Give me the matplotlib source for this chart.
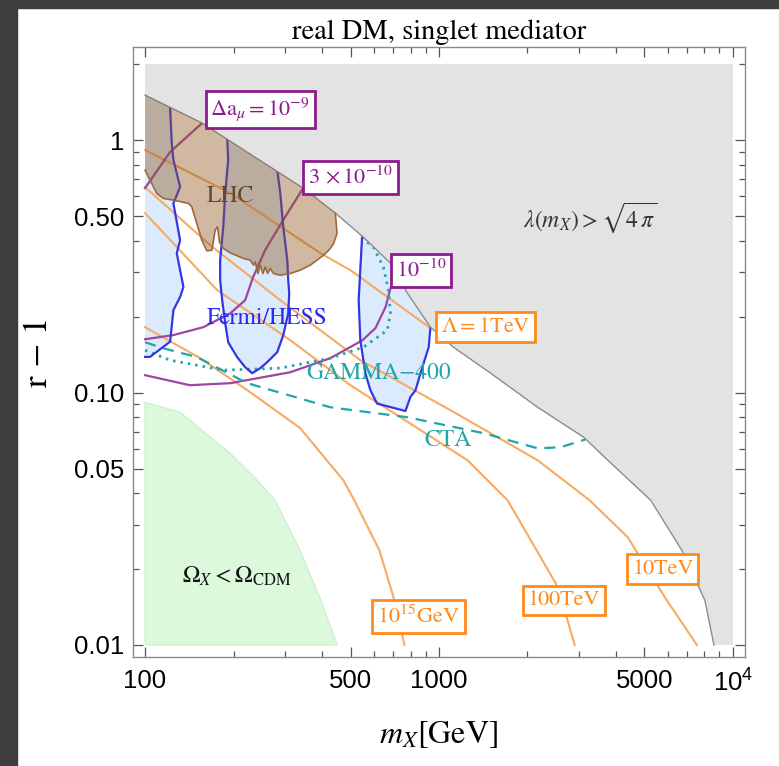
import numpy as np
import matplotlib
matplotlib.use("Agg")
import matplotlib.pyplot as plt
from matplotlib.patches import Polygon, Rectangle
from matplotlib.ticker import FixedLocator, FixedFormatter, NullFormatter

plt.rcParams["mathtext.fontset"] = "stix"
plt.rcParams["font.family"] = ["STIXGeneral", "DejaVu Serif"]
plt.rcParams["mathtext.rm"] = "Liberation Sans"

# ---------------- data (m_X in GeV, r - 1) ----------------
# perturbativity bound lambda(m_X) = sqrt(4 pi)
bound_m = [100, 156.4, 228, 345.4, 444, 553, 683.7, 781, 935.4, 1120, 1498,
           2166, 3107, 3692, 5255, 6703, 8027, 8616]
bound_r = [1.508, 1.168, 0.880, 0.645, 0.5137, 0.4125, 0.3254, 0.2474, 0.1815,
           0.1512, 0.1193, 0.0874, 0.0665, 0.0549, 0.0374, 0.0237, 0.01502, 0.01]

# relic abundance region
relic_m = [100, 131.6, 195, 241, 277, 337, 394, 451]
relic_r = [0.0915, 0.0835, 0.0574, 0.0449, 0.0374, 0.0237, 0.0153, 0.01]

# LHC exclusion, lower edge (upper edge is the perturbativity bound)
lhc_m = [444, 449.9, 438.1, 426.9, 416.0, 405.1, 384.6, 364.9, 337.4, 311.9, 288.4,
         273.6, 266.7, 261.1, 256.4, 251.8, 246.6, 242.1, 237.1, 233.9, 228.0,
         216.3, 194.8, 184.8, 179.1, 176.3, 173.2, 168.8, 162.3, 156.0, 150.0,
         144.2, 140.5, 124.9, 115.4, 109.6, 104.0, 100]
lhc_r = [0.5137, 0.4268, 0.3896, 0.3722, 0.3608, 0.3501, 0.3345, 0.3196, 0.3053,
         0.2961, 0.2916, 0.2961, 0.3101, 0.2961, 0.3146, 0.2961, 0.3196, 0.2961,
         0.3293, 0.3196, 0.3345, 0.3397, 0.3575, 0.3722, 0.3953, 0.4533, 0.4397,
         0.3664, 0.3640, 0.4015, 0.4675, 0.5440, 0.5613, 0.5783, 0.5873, 0.6148,
         0.6942, 0.7605]

# Fermi/HESS exclusion contours
fermiA_m = [121.7, 123.3, 124.9, 131.6, 124.9, 131.6, 128.2, 135.1, 131.6, 124.9,
            121.7, 104, 100]
fermiA_r = [1.339, 0.970, 0.833, 0.653, 0.561, 0.401, 0.356, 0.262, 0.239, 0.212,
            0.159, 0.1384, 0.1384]
fermiB_m = [190.3, 191.8, 187.4, 184.5, 180.1, 180.1, 183.0, 187.4, 191.8, 205.8,
            219.1, 231.5, 246.6, 260.4, 281.7, 295.3, 307.0, 309.4, 307.0, 304.7,
            295.3, 288.4, 281.7]
fermiB_r = [1.028, 0.833, 0.617, 0.452, 0.3345, 0.2787, 0.2321, 0.1882, 0.1582,
            0.138, 0.126, 0.1193, 0.1249, 0.1319, 0.1445, 0.1687, 0.2062, 0.2474,
            0.2787, 0.3345, 0.452, 0.617, 0.7605]
fermiC_m = [547.4, 533, 540, 561.8, 584.4, 615.6, 768.9, 799.6, 831.9, 864.9, 923,
            935.4]
fermiC_r = [0.4137, 0.2321, 0.1612, 0.119, 0.1021, 0.0904, 0.0845, 0.0961, 0.1021,
            0.119, 0.1516, 0.182]

# future sensitivities
cta_m = [100, 115.2, 150.4, 222.6, 426.9, 781, 1418, 2166, 2594, 3150]
cta_r = [0.1582, 0.1498, 0.138, 0.1089, 0.0874, 0.0798, 0.069, 0.0601, 0.0607, 0.0652]
gamma_m = [100, 121.7, 184.5, 288.4, 426.9, 553, 667.5, 683.7, 672.9, 647, 598.3, 540]
gamma_r = [0.1471, 0.1343, 0.1226, 0.1249, 0.1368, 0.1512, 0.1766, 0.2062, 0.2543,
           0.3138, 0.3766, 0.415]

# muon g-2 contours
amu9_m = [156.4, 121.6, 100]
amu9_r = [1.168, 0.896, 0.645]
amu3_m = [345, 295, 256, 233, 219, 195, 158, 124.5, 100]
amu3_r = [0.645, 0.482, 0.366, 0.286, 0.232, 0.206, 0.1815, 0.1687, 0.1626]
amu1_m = [684, 658, 608, 549, 427, 312, 195, 142, 100]
amu1_r = [0.259, 0.218, 0.180, 0.161, 0.1368, 0.1203, 0.1089, 0.1069, 0.1171]

# Landau pole scale contours
lam1_m = [100, 195, 394.7, 499.4, 935.4]
lam1_r = [0.913, 0.6165, 0.3566, 0.3053, 0.1799]
lam10_m = [100, 166.5, 288.4, 540, 1094, 2166, 3256, 4387, 5958, 7541]
lam10_r = [0.651, 0.3836, 0.2321, 0.1343, 0.0851, 0.0539, 0.0374, 0.0267, 0.01502, 0.01]
lam100_m = [100, 176, 312, 499.4, 1251, 1712, 2149, 2495, 2719, 2895]
lam100_r = [0.5137, 0.2543, 0.1612, 0.1069, 0.0539, 0.0374, 0.0237, 0.01754, 0.01287, 0.01]
lam15_m = [100, 154, 228, 337.4, 472.7, 515.3, 627, 705.3, 763]
lam15_r = [0.1815, 0.1368, 0.1003, 0.0722, 0.0449, 0.0374, 0.0237, 0.01502, 0.01]

x_major = [100, 500, 1000, 5000, 10000]
x_labels = ["100", "500", "1000", "5000", r"$\mathregular{10^4}$"]
x_minor = [200, 300, 400, 600, 700, 800, 900, 2000, 3000, 4000, 6000, 7000, 8000, 9000]
y_major = [0.01, 0.05, 0.1, 0.5, 1]
y_labels = ["0.01", "0.05", "0.10", "0.50", "1"]
y_minor = [0.02, 0.03, 0.04, 0.06, 0.07, 0.08, 0.09, 0.2, 0.3, 0.4, 0.6, 0.7, 0.8, 0.9, 2]

M_MIN, M_MAX, R_MIN, R_MAX = 100, 10000, 0.01, 2

# ---------------- colours ----------------
GRAY_FILL, GRAY_EDGE = "#e3e3e3", "#8c8c8c"
BLUE_FILL, BLUE_EDGE = "#dbeafc", "#3535e4"
GREEN_FILL, GREEN_EDGE = "#dcf9dc", "#c8eec8"
LHC_FILL, LHC_EDGE = (0.56, 0.34, 0.13), "#9a6a3e"
ORANGE_LINE, ORANGE_BOX = "#f6aa62", "#ff8a1a"
PURPLE_LINE, PURPLE_BOX = "#9c47a0", "#8e1a8e"
TEAL = "#20a6a6"

fig = plt.figure(figsize=(7.79, 7.66), dpi=100)
fig.patches.append(Rectangle((0, 1 - 8 / 766), 1, 8 / 766, transform=fig.transFigure,
                             color="#3d3d3d", zorder=0))
fig.patches.append(Rectangle((0, 0), 17 / 779, 1, transform=fig.transFigure,
                             color="#3d3d3d", zorder=0))

ax = fig.add_axes([133 / 779, 1 - 657 / 766, 612 / 779, 610 / 766])
ax.set_xscale("log")
ax.set_yscale("log")
ax.set_xlim(91.0, 10990)
ax.set_ylim(0.00896, 2.337)


def boundary_between(m_lo, m_hi):
    """points of the perturbativity bound inside [m_lo, m_hi], slightly lifted"""
    return [(m, r * 1.06) for m, r in zip(bound_m, bound_r) if m_lo <= m <= m_hi]


# relic region
ax.add_patch(Polygon(list(zip(relic_m, relic_r)) + [(M_MIN, R_MIN)], closed=True,
                     fc=GREEN_FILL, ec=GREEN_EDGE, lw=0.8, zorder=1))

# Fermi/HESS regions
for fm, fr in [(fermiA_m, fermiA_r), (fermiB_m, fermiB_r), (fermiC_m, fermiC_r)]:
    pts = list(zip(fm, fr))
    top = boundary_between(min(fm[0], fm[-1]), max(fm[0], fm[-1]))
    if fm[-1] == M_MIN:
        poly = pts + [(M_MIN, bound_r[0])]
    elif fm[-1] < fm[0]:
        poly = pts + top
    else:
        poly = pts + top[::-1]
    ax.add_patch(Polygon(poly, closed=True, fc=BLUE_FILL, ec="none", zorder=1))
    ax.plot(fm, fr, color=BLUE_EDGE, lw=1.6, zorder=2.5)

# Landau pole lines
for lm, lr in [(lam1_m, lam1_r), (lam10_m, lam10_r), (lam100_m, lam100_r),
               (lam15_m, lam15_r)]:
    ax.plot(lm, lr, color=ORANGE_LINE, lw=1.5, zorder=2)

# muon g-2 lines
for am, ar in [(amu9_m, amu9_r), (amu3_m, amu3_r), (amu1_m, amu1_r)]:
    ax.plot(am, ar, color=PURPLE_LINE, lw=1.6, zorder=2.2)

# gamma-ray telescopes
ax.plot(cta_m, cta_r, color=TEAL, lw=1.6, ls=(0, (5, 3.5)), zorder=2.3)
ax.plot(gamma_m, gamma_r, color=TEAL, lw=2.0, ls=(0, (0.9, 1.8)), zorder=2.3)

# non-perturbative region
gray_poly = list(zip(bound_m, bound_r)) + [(M_MAX, R_MIN), (M_MAX, R_MAX), (M_MIN, R_MAX)]
ax.add_patch(Polygon(gray_poly, closed=True, fc=GRAY_FILL, ec="none", zorder=3))
ax.plot(bound_m, bound_r, color=GRAY_EDGE, lw=1.0, zorder=3.1)

# LHC region
lhc_top = [(m, r) for m, r in zip(bound_m, bound_r) if m <= 444]
ax.add_patch(Polygon(lhc_top + list(zip(lhc_m, lhc_r))[1:], closed=True,
                     fc=LHC_FILL, alpha=0.42, ec="none", zorder=4))
ax.plot(lhc_m, lhc_r, color=LHC_EDGE, lw=1.2, zorder=4.1)


# ---------------- labels ----------------
def boxed(x, y, s, tc, bc, size=16):
    ax.text(x, y, s, color=tc, fontsize=size, ha="center", va="center", zorder=6,
            math_fontfamily="stix",
            bbox=dict(boxstyle="square,pad=0.22", fc="white", ec=bc, lw=2.0))


boxed(246.5, 1.321, r"$\Delta\mathrm{a}_{\mu} = 10^{-9}$", PURPLE_BOX, PURPLE_BOX)
boxed(501, 0.710, r"$3\,\times 10^{-10}$", PURPLE_BOX, PURPLE_BOX)
boxed(871, 0.304, r"$10^{-10}$", PURPLE_BOX, PURPLE_BOX)
boxed(1439, 0.1815, r"$\Lambda = 1$TeV", ORANGE_BOX, ORANGE_BOX)
boxed(5775, 0.0200, "10TeV", ORANGE_BOX, ORANGE_BOX)
boxed(2655, 0.01502, "100TeV", ORANGE_BOX, ORANGE_BOX)
boxed(851, 0.01298, r"$10^{15}$GeV", ORANGE_BOX, ORANGE_BOX)

ax.text(195, 0.600, "LHC", color="#5e4830", fontsize=17, ha="center", va="center", zorder=6)
ax.text(260, 0.197, "Fermi/HESS", color="#2a2af0", fontsize=17, ha="center", va="center", zorder=6)
ax.text(622, 0.1193, "GAMMA\u2212400", color=TEAL, fontsize=17, ha="center", va="center", zorder=6)
ax.text(1069, 0.0647, "CTA", color=TEAL, fontsize=17, ha="center", va="center", zorder=6)
ax.text(3281, 0.491, r"$\lambda(m_X) > \sqrt{4\,\pi}$", color="#333333", fontsize=17,
        ha="center", va="center", zorder=6, math_fontfamily="stix")
ax.text(205.6, 0.0187, r"$\Omega_X < \Omega_{\rm CDM}$", color="#111111", fontsize=17,
        ha="center", va="center", zorder=6, math_fontfamily="stix")

ax.set_title("real DM, singlet mediator", fontsize=20.5, pad=6)
ax.set_xlabel(r"$m_X$[GeV]", fontsize=23, labelpad=16, math_fontfamily="stix")
ax.set_ylabel("r \u2212 1", fontsize=25, labelpad=14)

# ---------------- frame / ticks ----------------
for sp in ax.spines.values():
    sp.set_color("#8a8a8a")
    sp.set_linewidth(1.0)
ax.xaxis.set_major_locator(FixedLocator(x_major))
ax.xaxis.set_minor_locator(FixedLocator(x_minor))
ax.xaxis.set_major_formatter(FixedFormatter(x_labels))
ax.xaxis.set_minor_formatter(NullFormatter())
ax.yaxis.set_major_locator(FixedLocator(y_major))
ax.yaxis.set_minor_locator(FixedLocator(y_minor))
ax.yaxis.set_major_formatter(FixedFormatter(y_labels))
ax.yaxis.set_minor_formatter(NullFormatter())
ax.tick_params(which="both", direction="in", top=True, right=True, color="#555555",
               width=0.9)
ax.tick_params(which="major", length=7)
ax.tick_params(which="minor", length=4)
ax.tick_params(axis="x", which="major", pad=9)
ax.tick_params(axis="y", which="major", pad=6)
for lab in ax.get_xticklabels() + ax.get_yticklabels():
    lab.set_fontfamily("Liberation Sans")
    lab.set_fontsize(18.5)
    lab.set_math_fontfamily("custom")

fig.savefig("out.png", dpi=100, facecolor="white")
